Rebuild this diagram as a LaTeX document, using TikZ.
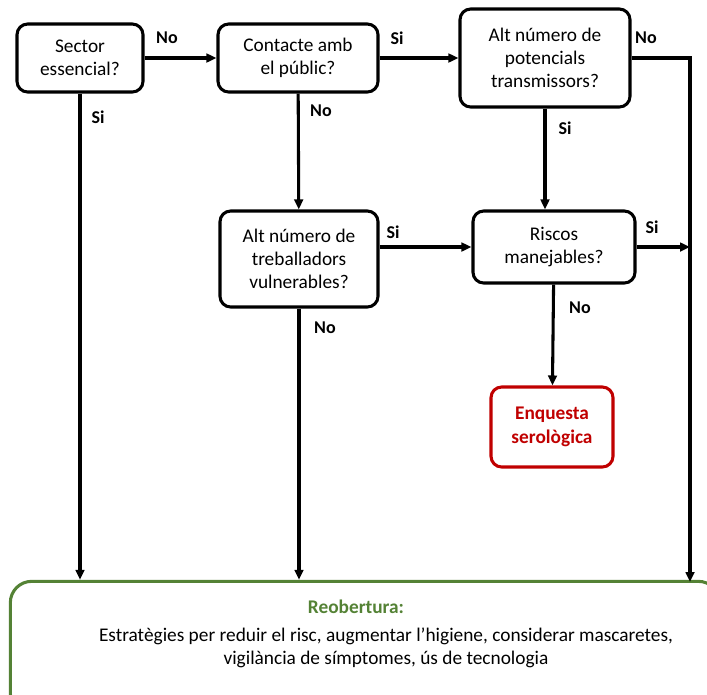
\documentclass[tikz,border=0pt]{standalone}
\usepackage{fontspec}
\setmainfont{Carlito}
\usepackage{xcolor}
\usepackage{tikz}
\usetikzlibrary{positioning,arrows.meta,calc}

\definecolor{okgreen}{RGB}{84,130,53}
\definecolor{okred}{RGB}{192,0,0}

\begin{document}
\begin{tikzpicture}[
    x=0.75pt, y=-0.75pt, >={Triangle[length=7.5pt,width=6.5pt]},
    font=\fontsize{14.5}{17.5}\selectfont,
    question/.style={draw, line width=2.3pt, rounded corners=8pt, align=center, inner sep=2pt},
    result/.style  ={draw=okred, line width=2.3pt, rounded corners=8pt, align=center, text=okred, font=\fontsize{14.5}{17.5}\selectfont\bfseries},
    reopen/.style  ={draw=okgreen, line width=2.3pt, rounded corners=16pt},
    flow/.style    ={->, line width=2.3pt},
    answer/.style  ={font=\fontsize{13.5}{15}\selectfont\bfseries}
]
\useasboundingbox (0,0) rectangle (707,694);

% --- Questions ---
\node[question, minimum width=94.5pt,  minimum height=51pt]   (sector)  at (80,58)    {Sector\\essencial?};
\node[question, minimum width=120pt,   minimum height=51pt]   (contact) at (298,58)   {Contacte amb\\el públic?};
\node[question, minimum width=127.5pt, minimum height=73.5pt] (transm)  at (545,58)   {Alt número de\\potencials\\transmissors?};
\node[question, minimum width=118.5pt, minimum height=72pt]   (vulner)  at (299,259)  {Alt número de\\treballadors\\vulnerables?};
\node[question, minimum width=121.5pt, minimum height=54pt]   (risk)    at (554,247)  {Riscos\\manejables?};

% --- Outcomes ---
\node[result, minimum width=91.5pt, minimum height=60pt] (sero) at (552,427) {Enquesta\\serològica};
\node[reopen, minimum width=532pt, minimum height=100pt] (reob) at (365,648) {};
\node[font=\fontsize{14.5}{17.5}\selectfont\bfseries, text=okgreen] (reobtitle) at (356,607) {Reobertura:};
\node[align=center] (reobtext) at (386,648) {Estratègies per reduir el risc, augmentar l’higiene, considerar mascaretes,\\vigilància de símptomes, ús de tecnologia};

\coordinate (rail) at (690,582);

% --- Connectors ---
\draw[flow] (sector) -- (contact);
\draw[flow] (contact) -- (transm.west |- contact);
\draw[flow] (transm.east |- contact) -| (rail);
\draw[flow] (sector) -- (sector |- reob.north);
\draw[flow] (contact) -- (vulner);
\draw[flow] (transm) -- (transm |- risk.north);
\draw[flow] (vulner.east |- risk) -- (risk);
\draw[flow] (risk) -- (risk -| rail);
\draw[flow] (risk) -- (sero);
\draw[flow] (vulner) -- (vulner |- reob.north);

% --- Answers ---
\node[answer] (a1) at (167,38)  {No};
\node[answer] (a2) at (397,38)  {Si};
\node[answer] (a3) at (646,38)  {No};
\node[answer] (a4) at (98,117)  {Si};
\node[answer] (a5) at (321,111) {No};
\node[answer] (a6) at (565,128) {Si};
\node[answer] (a7) at (393,232) {Si};
\node[answer] (a8) at (652,227) {Si};
\node[answer] (a9) at (580,308) {No};
\node[answer] (a10) at (325,328) {No};

\end{tikzpicture}
\end{document}
